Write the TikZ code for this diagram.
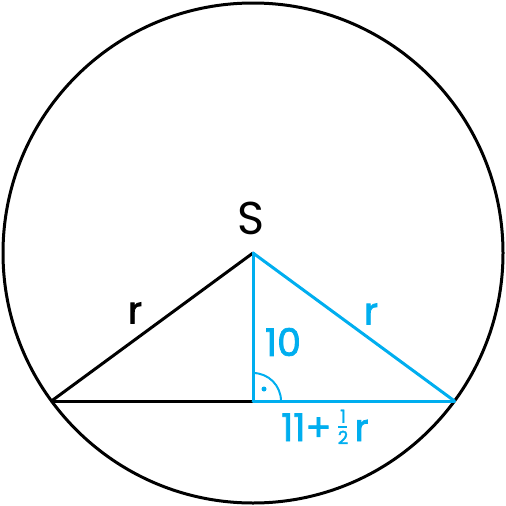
\documentclass[tikz,border=0pt]{standalone}
\usepackage{fontspec}
\setmainfont{Poppins}
\definecolor{cblue}{RGB}{0,174,239}
\newcommand{\smalldig}[1]{\fontsize{18}{18}\selectfont #1}
\newcommand{\myhalf}{\raisebox{-3pt}{\vbox{\offinterlineskip\halign{\hfil##\hfil\cr\smalldig{1}\cr\noalign{\kern3pt}\rule{9pt}{2pt}\cr\noalign{\kern3pt}\smalldig{2}\cr}}}}
\begin{document}
\begin{tikzpicture}[x=1pt,y=-1pt,
  edge/.style={line width=3pt,line cap=round,line join=round},
  lbl/.style={inner sep=0pt,font=\fontsize{38}{38}\selectfont\addfontfeature{FakeBold=2}}]
\useasboundingbox (0,0) rectangle (506,506);
\coordinate (S) at (253,253);
\coordinate (L) at (51.5,401);
\coordinate (R) at (454.5,401);
\coordinate (F) at (253,401);
\draw[edge] (S) circle[radius=250];
\draw[edge] (L) -- (S);
\draw[edge] (L) -- (F);
\draw[edge,cblue] (S) -- (R);
\draw[edge,cblue] (S) -- (F);
\draw[edge,cblue] (F) -- (R);
\draw[line width=2pt,cblue] ([xshift=28pt]F) arc[start angle=0,end angle=-90,radius=28];
\fill[cblue] (264,389) circle[radius=2.5];
\node[inner sep=0pt,font=\fontsize{46}{46}\selectfont] (sl) at (251,218) {S};
\node[lbl] (r1) at (135,313) {r};
\node[lbl,cblue] (r2) at (371,314) {r};
\node[lbl,cblue] (ten) at (283,342) {10};
\node[lbl,cblue,anchor=base west] (base) at (281,441) {11+\,\myhalf\,r};
\end{tikzpicture}
\end{document}
